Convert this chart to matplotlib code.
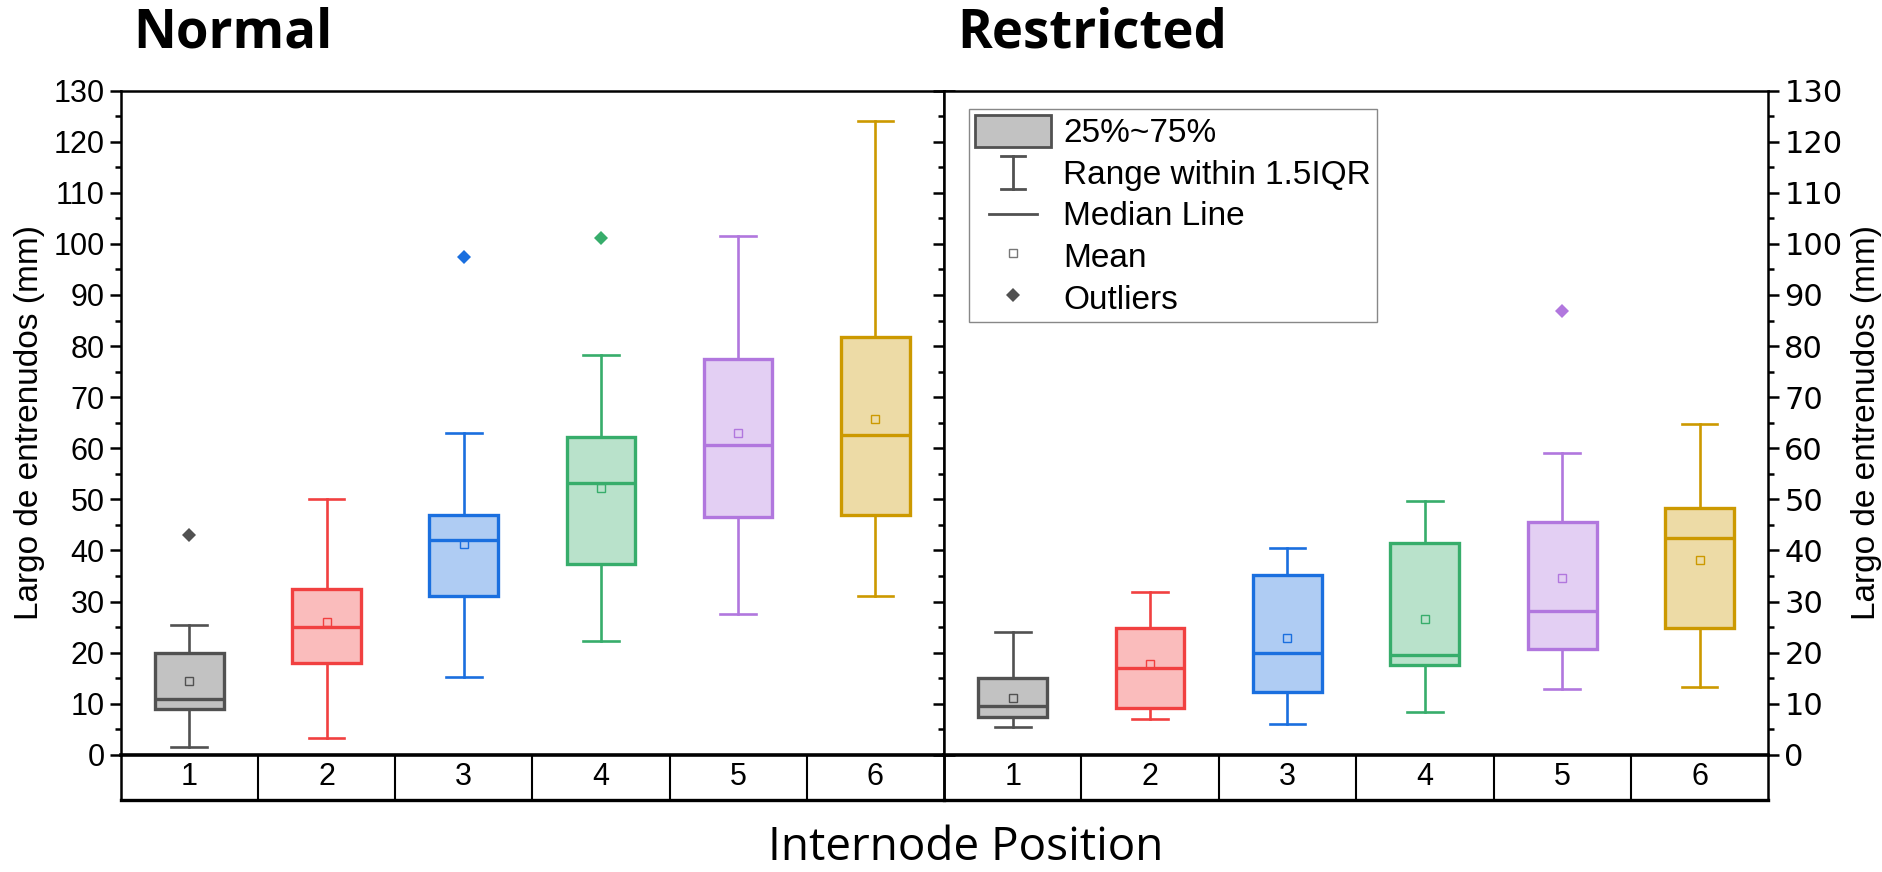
import matplotlib
matplotlib.use('Agg')
import matplotlib.pyplot as plt
from matplotlib.colors import to_rgba
from matplotlib.legend_handler import HandlerBase
from matplotlib.lines import Line2D
from matplotlib.patches import Patch
from matplotlib.ticker import MultipleLocator

# data (mm)
positions = [1, 2, 3, 4, 5, 6]
tick_labels = ['1', '2', '3', '4', '5', '6']

normal_whislo = [1.5, 3.3, 15.2, 22.3, 27.6, 31.0]
normal_q1 = [9.0, 18.0, 31.0, 37.3, 46.5, 47.0]
normal_med = [11.0, 25.0, 42.0, 53.3, 60.7, 62.6]
normal_q3 = [20.0, 32.5, 47.0, 62.2, 77.5, 81.8]
normal_whishi = [25.5, 50.0, 63.0, 78.2, 101.5, 124.0]
normal_mean = [14.5, 26.1, 41.2, 52.3, 63.0, 65.8]
normal_fliers = [[43.0], [], [97.5], [101.2], [], []]

restr_whislo = [5.4, 7.1, 6.1, 8.3, 12.9, 13.3]
restr_q1 = [7.4, 9.2, 12.3, 17.5, 20.7, 24.8]
restr_med = [9.6, 17.0, 20.0, 19.5, 28.2, 42.4]
restr_q3 = [15.1, 24.8, 35.2, 41.5, 45.5, 48.3]
restr_whishi = [24.0, 31.8, 40.5, 49.7, 59.0, 64.8]
restr_mean = [11.2, 17.7, 22.9, 26.6, 34.6, 38.2]
restr_fliers = [[], [], [], [], [86.8], []]

edge_colors = ['#515151', '#F14040', '#1A6FDF', '#37AD6B', '#B177DE', '#CC9900']

font_main = 'Liberation Sans'
font_title = 'Open Sans'


class WhiskerIcon:
    pass


class MedianIcon:
    pass


class WhiskerHandler(HandlerBase):
    def create_artists(self, legend, orig_handle, xdescent, ydescent,
                       width, height, fontsize, trans):
        cx = width / 2 - xdescent
        y0 = -ydescent - 0.02 * height
        y1 = -ydescent + 1.02 * height
        cap = 0.16 * width
        arts = [Line2D([cx, cx], [y0, y1], color='#515151', lw=2),
                Line2D([cx - cap, cx + cap], [y0, y0], color='#515151', lw=2),
                Line2D([cx - cap, cx + cap], [y1, y1], color='#515151', lw=2)]
        for a in arts:
            a.set_transform(trans)
        return arts


class MedianHandler(HandlerBase):
    def create_artists(self, legend, orig_handle, xdescent, ydescent,
                       width, height, fontsize, trans):
        cx = width / 2 - xdescent
        cy = height / 2 - ydescent
        half = 0.31 * width
        ln = Line2D([cx - half, cx + half], [cy, cy], color='#515151', lw=2)
        ln.set_transform(trans)
        return [ln]


def draw_panel(ax, tab, whislo, q1, med, q3, whishi, mean, fliers):
    stats = []
    for i in range(len(positions)):
        stats.append({'whislo': whislo[i], 'q1': q1[i], 'med': med[i],
                      'q3': q3[i], 'whishi': whishi[i], 'mean': mean[i],
                      'fliers': fliers[i], 'label': tick_labels[i]})
    bp = ax.bxp(stats, positions=positions, widths=0.5, capwidths=0.26,
                patch_artist=True, showmeans=True, showfliers=True,
                boxprops=dict(linewidth=2.4),
                whiskerprops=dict(linewidth=1.9),
                capprops=dict(linewidth=1.9),
                medianprops=dict(linewidth=2.4),
                meanprops=dict(marker='s', markersize=6, markerfacecolor='none',
                               markeredgewidth=1.0),
                flierprops=dict(marker='D', markersize=7.5, markeredgewidth=0))
    for i, c in enumerate(edge_colors):
        bp['boxes'][i].set_facecolor(to_rgba(c, 0.35))
        bp['boxes'][i].set_edgecolor(c)
        bp['medians'][i].set_color(c)
        bp['means'][i].set_markeredgecolor(c)
        bp['fliers'][i].set_markerfacecolor(c)
        bp['fliers'][i].set_markeredgecolor(c)
        for w in bp['whiskers'][2 * i:2 * i + 2]:
            w.set_color(c)
        for cp in bp['caps'][2 * i:2 * i + 2]:
            cp.set_color(c)

    ax.set_xlim(0.5, 6.5)
    ax.set_ylim(0, 130)
    ax.set_xticks([])
    ax.yaxis.set_major_locator(MultipleLocator(10))
    ax.yaxis.set_minor_locator(MultipleLocator(5))
    ax.tick_params(axis='y', which='both', direction='out', left=True, right=True,
                   width=1.8, labelsize=22)
    ax.tick_params(axis='y', which='major', length=8)
    ax.tick_params(axis='y', which='minor', length=4)
    for s in ax.spines.values():
        s.set_linewidth(1.8)
    ax.spines['bottom'].set_linewidth(2.6)
    for lab in ax.get_yticklabels():
        lab.set_fontfamily(font_main)

    # category row under the axis
    tab.patch.set_visible(False)
    tab.set_xlim(0.5, 6.5)
    tab.set_ylim(0, 1)
    tab.set_xticks([])
    tab.set_yticks([])
    tab.spines['top'].set_visible(False)
    tab.spines['bottom'].set_linewidth(2.4)
    tab.spines['left'].set_linewidth(1.8)
    tab.spines['right'].set_linewidth(1.8)
    for p in positions[:-1]:
        tab.axvline(p + 0.5, color='black', lw=1.5)
    for p, t in zip(positions, tick_labels):
        tab.text(p, 0.5, t, ha='center', va='center', fontsize=22,
                 family=font_main)


fig = plt.figure(figsize=(18.83, 8.72), dpi=100)
bottom = 0.1343
height = 0.7618
row_h = 0.0513
axL = fig.add_axes([0.0641, bottom, 0.4372, height])
axR = fig.add_axes([0.5013, bottom, 0.4378, height])
tabL = fig.add_axes([0.0641, bottom - row_h, 0.4372, row_h])
tabR = fig.add_axes([0.5013, bottom - row_h, 0.4378, row_h])

draw_panel(axL, tabL, normal_whislo, normal_q1, normal_med, normal_q3,
           normal_whishi, normal_mean, normal_fliers)
draw_panel(axR, tabR, restr_whislo, restr_q1, restr_med, restr_q3,
           restr_whishi, restr_mean, restr_fliers)

axL.tick_params(axis='y', which='both', labelleft=True, labelright=False)
axR.tick_params(axis='y', which='both', labelleft=False, labelright=True)

axL.set_ylabel('Largo de entrenudos (mm)', fontsize=24, family=font_main, labelpad=6)
axR.yaxis.set_label_position('right')
axR.set_ylabel('Largo de entrenudos (mm)', fontsize=24, family=font_main,
               labelpad=6, rotation=90)

fig.text(0.0705, 0.962, 'Normal', fontsize=38, fontweight='bold',
         family=font_title, ha='left', va='center')
fig.text(0.5085, 0.962, 'Restricted', fontsize=38, fontweight='bold',
         family=font_title, ha='left', va='center')
fig.text(0.513, 0.028, 'Internode Position', fontsize=33, family=font_title,
         ha='center', va='center')

handles = [Patch(facecolor=to_rgba(edge_colors[0], 0.35), edgecolor=edge_colors[0], lw=2),
           WhiskerIcon(), MedianIcon(),
           Line2D([], [], ls='none', marker='s', markersize=6, markerfacecolor='white',
                  markeredgecolor='#777777', markeredgewidth=1.0),
           Line2D([], [], ls='none', marker='D', markersize=7.5, color='#515151',
                  markeredgewidth=0)]
labels = ['25%~75%', 'Range within 1.5IQR', 'Median Line', 'Mean', 'Outliers']
leg = axR.legend(handles, labels, loc='upper left', bbox_to_anchor=(0.03, 0.973),
                 borderaxespad=0, fancybox=False, framealpha=1, edgecolor='#888888',
                 prop={'family': font_main, 'size': 24}, handlelength=2.3,
                 handleheight=1.1, labelspacing=0.22, borderpad=0.18,
                 handletextpad=0.35,
                 handler_map={WhiskerIcon: WhiskerHandler(), MedianIcon: MedianHandler()})
leg.get_frame().set_linewidth(1.0)

fig.savefig('out.png', dpi=100)
